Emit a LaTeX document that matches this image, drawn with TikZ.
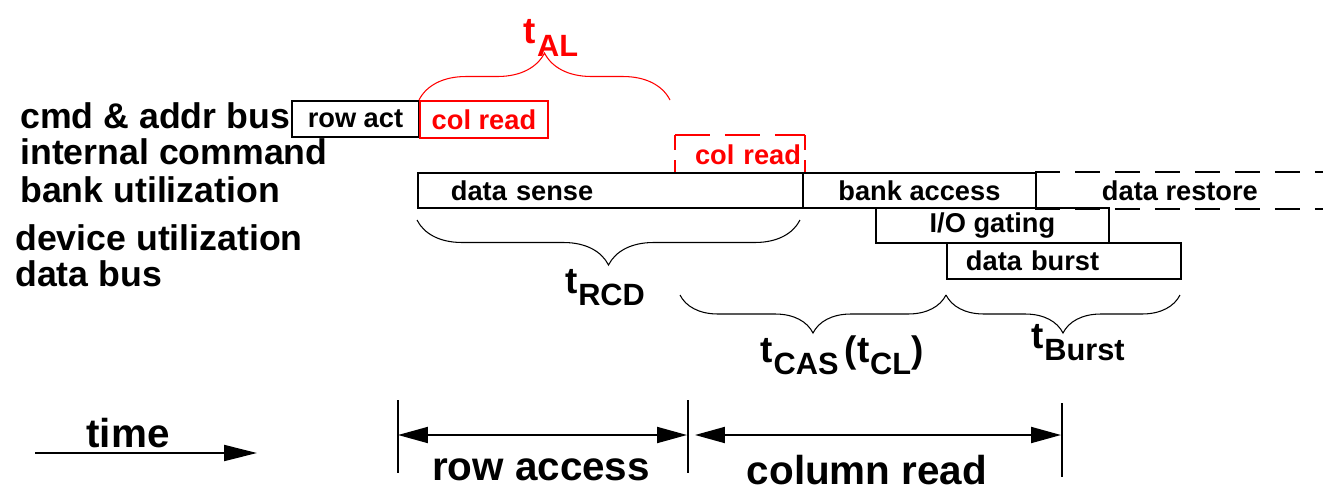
\documentclass[tikz,border=0pt]{standalone}
\usepackage{fontspec}
\setmainfont{Liberation Sans}
\usetikzlibrary{arrows.meta,decorations.pathreplacing}
\newcommand{\tpar}[1]{t\kern0.5pt\raisebox{-0.33em}{\fontsize{17.5}{17.5}\selectfont #1}}
\begin{document}
\begin{tikzpicture}[
x=0.02cm, y=-0.02cm,
rowlabel/.style={anchor=west, inner sep=0pt, font=\fontsize{20.3}{20.3}\selectfont\bfseries},
slot/.style={draw, line width=1.1pt, anchor=north west, minimum height=0.7cm, inner sep=0pt, font=\fontsize{15.5}{15.5}\selectfont\bfseries},
timing/.style={inner sep=0pt, font=\fontsize{21}{21}\selectfont\bfseries},
phase/.style={inner sep=0pt, font=\fontsize{23}{23}\selectfont\bfseries},
span/.style={decorate, decoration={brace, amplitude=#1}, line width=0.6pt},
dim/.style={line width=1.1pt, {Triangle[length=0.6cm,width=0.32cm]}-{Triangle[length=0.6cm,width=0.32cm]}},
dashline/.style={line width=1.1pt, dash pattern=on 0.5cm off 0.3cm},
]
\useasboundingbox (0,0) rectangle (1323,491);
% row labels
\node (cmdbus) [rowlabel] at (20,116) {cmd \& addr bus};
\node (intcmd) [rowlabel] at (20,152) {internal command};
\node (bankutil) [rowlabel] at (20,190) {bank utilization};
\node (devutil) [rowlabel] at (15,238) {device utilization};
\node (databus) [rowlabel] at (15,274) {data bus};
% commands
\node (rowact) [slot, minimum width=2.54cm, minimum height=0.72cm] at (291,100) {row act};
\node (colread) [slot, draw=red, text=red, minimum width=2.56cm, minimum height=0.74cm] at (419,100) {col read};
\node (colread2) [slot, draw=none, text=red, text width=2.44cm, align=right, inner xsep=0.06cm, minimum height=0.74cm] at (675,135) {col read};
\draw[red, line width=1.1pt, dash pattern=on 0.3cm off 0.2cm] (colread2.north west) -- (colread2.south west);
\draw[red, line width=1.1pt, dash pattern=on 0.3cm off 0.2cm] (colread2.north east) -- (colread2.south east);
\draw[red, line width=1.1pt, dash pattern=on 0.7cm off 0.3cm] (colread2.north west) -- (colread2.north east);
% bank, device and bus
\node (datasense) [slot, text width=6.38cm, align=left, inner xsep=0.66cm] at (417,172) {data sense};
\node (bankacc) [slot, minimum width=4.66cm] at (802,172) {bank access};
\node (restore) [slot, draw=none, minimum width=5.76cm] at (1035,172) {data restore};
\draw[dashline] (restore.north west) -- (restore.north east);
\draw[dashline] (restore.south west) -- (restore.south east);
\node (iogate) [slot, minimum width=4.66cm] at (875,207) {I/O gating};
\node (burst) [slot, text width=3.92cm, align=left, inner xsep=0.38cm, minimum height=0.72cm] at (946,242) {data burst};
% braces
\draw[span=0.94cm, red] (colread.north west) -- (670,100);
\node (tal) [timing, text=red] at (551,38) {\tpar{AL}};
\draw[span=0.9cm] (800,220) -- (417,220);
\node (trcd) [timing] at (605,288) {\tpar{RCD}};
\draw[span=0.76cm] (946,295) -- (680,295);
\node (tcas) [timing] at (842,355) {\tpar{CAS}\,(\tpar{CL})};
\draw[span=0.76cm] (1180,295) -- (946,295);
\node (tburst) [timing] at (1078,343) {\tpar{Burst}};
% time axis
\coordinate (t0) at (35,453);
\coordinate (t1) at (257,453);
\draw[line width=1.1pt, -{Triangle[length=0.66cm,width=0.32cm]}] (t0) -- (t1);
\node (time) [phase] at (128,433) {time};
% phases
\coordinate (p0) at (398,400);
\coordinate (p1) at (688,400);
\coordinate (p2) at (1062,403);
\draw[line width=1.1pt] (p0) -- ++(0,73);
\draw[line width=1.1pt] (p1) -- ++(0,73);
\draw[line width=1.1pt] (p2) -- ++(0,74);
\coordinate (a0) at (398,435);
\coordinate (a1) at (687,435);
\coordinate (b0) at (695,435);
\coordinate (b1) at (1061,435);
\draw[dim] (a0) -- (a1);
\draw[dim] (b0) -- (b1);
\node (rowacc) [phase] at (541,470) {row access};
\node (colrd) [phase] at (867,470) {column read};
\end{tikzpicture}
\end{document}
